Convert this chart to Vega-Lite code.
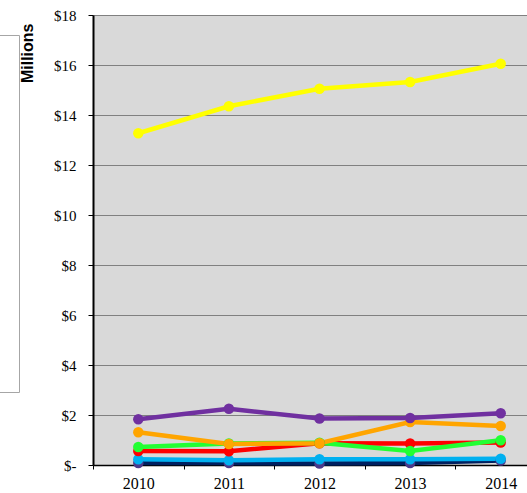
{
  "$schema": "https://vega.github.io/schema/vega-lite/v6.json",
  "width": 434,
  "height": 450,
  "autosize": {"type": "none"},
  "padding": {"left": 93, "top": 15, "right": 0, "bottom": 28},
  "background": "white",
  "config": {"view": {"fill": "#D9D9D9", "stroke": null}},
  "data": {
    "values": [
      {"series": "Series 7", "year": "2010", "value": 0.08},
      {"series": "Series 7", "year": "2011", "value": 0.08},
      {"series": "Series 7", "year": "2012", "value": 0.06},
      {"series": "Series 7", "year": "2013", "value": 0.08},
      {"series": "Series 7", "year": "2014", "value": 0.18},
      {"series": "Series 6", "year": "2010", "value": 0.23},
      {"series": "Series 6", "year": "2011", "value": 0.19},
      {"series": "Series 6", "year": "2012", "value": 0.23},
      {"series": "Series 6", "year": "2013", "value": 0.23},
      {"series": "Series 6", "year": "2014", "value": 0.25},
      {"series": "Series 5", "year": "2010", "value": 0.56},
      {"series": "Series 5", "year": "2011", "value": 0.55},
      {"series": "Series 5", "year": "2012", "value": 0.87},
      {"series": "Series 5", "year": "2013", "value": 0.86},
      {"series": "Series 5", "year": "2014", "value": 0.9},
      {"series": "Series 4", "year": "2010", "value": 0.72},
      {"series": "Series 4", "year": "2011", "value": 0.86},
      {"series": "Series 4", "year": "2012", "value": 0.89},
      {"series": "Series 4", "year": "2013", "value": 0.56},
      {"series": "Series 4", "year": "2014", "value": 0.99},
      {"series": "Series 3", "year": "2010", "value": 1.31},
      {"series": "Series 3", "year": "2011", "value": 0.84},
      {"series": "Series 3", "year": "2012", "value": 0.87},
      {"series": "Series 3", "year": "2013", "value": 1.72},
      {"series": "Series 3", "year": "2014", "value": 1.56},
      {"series": "Series 2", "year": "2010", "value": 1.83},
      {"series": "Series 2", "year": "2011", "value": 2.25},
      {"series": "Series 2", "year": "2012", "value": 1.86},
      {"series": "Series 2", "year": "2013", "value": 1.88},
      {"series": "Series 2", "year": "2014", "value": 2.07},
      {"series": "Series 1", "year": "2010", "value": 13.27},
      {"series": "Series 1", "year": "2011", "value": 14.35},
      {"series": "Series 1", "year": "2012", "value": 15.05},
      {"series": "Series 1", "year": "2013", "value": 15.32},
      {"series": "Series 1", "year": "2014", "value": 16.05}
    ]
  },
  "encoding": {
    "x": {
      "field": "year",
      "type": "nominal",
      "scale": {"type": "band", "range": [0, 453], "paddingInner": 0, "paddingOuter": 0},
      "axis": {
        "title": null,
        "labelAngle": 0,
        "labelFont": "Liberation Serif, Times New Roman, serif",
        "labelFontSize": 16,
        "labelColor": "black",
        "labelPadding": 6,
        "tickSize": 4,
        "tickColor": "black",
        "tickBand": "extent",
        "domainColor": "black",
        "domainWidth": 1.5,
        "grid": false
      }
    },
    "y": {
      "field": "value",
      "type": "quantitative",
      "scale": {"domain": [0, 18], "nice": false},
      "axis": {
        "values": [0, 2, 4, 6, 8, 10, 12, 14, 16, 18],
        "labelExpr": "datum.value === 0 ? '$-' : '$' + datum.value",
        "title": "Millions",
        "titleFont": "Liberation Sans",
        "titleFontSize": 16,
        "titleFontWeight": "bold",
        "titleColor": "black",
        "titleAngle": -90,
        "titleX": -61,
        "titleY": 8,
        "titleAlign": "right",
        "titleBaseline": "alphabetic",
        "labelFont": "Liberation Serif, Times New Roman, serif",
        "labelFontSize": 15,
        "labelColor": "black",
        "labelPadding": 12,
        "tickSize": 5,
        "tickColor": "black",
        "domainColor": "black",
        "domainWidth": 2,
        "grid": true,
        "gridColor": "#808080",
        "gridWidth": 1
      }
    }
  },
  "layer": [
    {
      "mark": {"type": "line", "strokeWidth": 4.5},
      "encoding": {
        "color": {
          "field": "series",
          "type": "nominal",
          "scale": {
            "domain": ["Series 1", "Series 2", "Series 3", "Series 4", "Series 5", "Series 6", "Series 7"],
            "range": ["#FFFF00", "#7030A0", "#FFA500", "#22FF33", "#FF0000", "#00B0F0", "#002060"]
          },
          "legend": {
            "orient": "none",
            "legendX": -122,
            "legendY": 20,
            "title": null,
            "strokeColor": "#A6A6A6",
            "fillColor": "white",
            "padding": 16,
            "labelExpr": "''",
            "labelFontSize": 12,
            "rowPadding": 35.7
          }
        }
      }
    },
    {
      "mark": {"type": "point", "filled": true, "size": 110, "opacity": 1},
      "encoding": {
        "color": {
          "condition": {"test": "datum.series === 'Series 7'", "value": "#4B3A8C"},
          "field": "series",
          "type": "nominal"
        }
      }
    }
  ]
}
